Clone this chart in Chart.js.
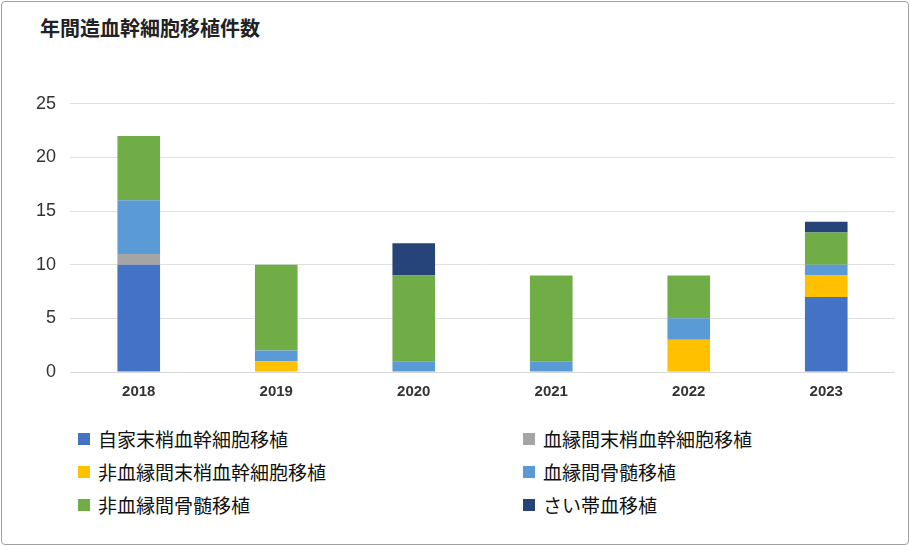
<!DOCTYPE html>
<html><head><meta charset="utf-8">
<script src="https://cdn.jsdelivr.net/npm/chart.js@4/dist/chart.umd.min.js"></script>
<style>
body{margin:0;background:#fff;font-family:"Noto Sans CJK JP","Noto Sans",sans-serif}
#frame{position:absolute;left:1px;top:1px;width:906px;height:542px;border:1px solid #a0a0a0;border-radius:4px}
#title{position:absolute;left:40px;top:13px;font-size:20px;font-weight:bold;color:#222}
#box{position:absolute;left:20px;top:79px;width:875px;height:325px}
#legend{position:absolute;left:78px;top:424px;display:grid;grid-template-columns:445px 300px;row-gap:4px;font-size:19px;color:#111}
#legend div{display:flex;align-items:center;height:29px}
#legend span{display:inline-block;width:12px;height:12px;margin-right:8px}
</style></head><body>
<div id="frame"></div>
<div id="title">年間造血幹細胞移植件数</div>
<div id="box"><canvas id="c"></canvas></div>
<div id="legend"></div>
<script>
// counts per year
const years = ["2018", "2019", "2020", "2021", "2022", "2023"]
const autoPB = [10, 0, 0, 0, 0, 7]
const relPB = [1, 0, 0, 0, 0, 0]
const unrelPB = [0, 1, 0, 0, 3, 2]
const relBM = [5, 1, 1, 1, 2, 1]
const unrelBM = [6, 8, 8, 8, 4, 3]
const cord = [0, 0, 3, 0, 0, 1]

const series = [
  ["自家末梢血幹細胞移植", autoPB, "#4472C4"],
  ["血縁間末梢血幹細胞移植", relPB, "#A5A5A5"],
  ["非血縁間末梢血幹細胞移植", unrelPB, "#FFC000"],
  ["血縁間骨髄移植", relBM, "#5B9BD5"],
  ["非血縁間骨髄移植", unrelBM, "#70AD47"],
  ["さい帯血移植", cord, "#264478"]
]

const legend = document.getElementById("legend")
series.forEach(([label, , color]) => {
  const d = document.createElement("div")
  d.innerHTML = '<span style="background:' + color + '"></span>' + label
  legend.appendChild(d)
})

new Chart(document.getElementById("c"), {
  type: 'bar',
  data: {
    labels: years,
    datasets: series.map(([label, data, color]) => ({
      label: label,
      data: data,
      backgroundColor: color,
      barPercentage: 0.31,
      categoryPercentage: 1
    }))
  },
  options: {
    responsive: true,
    maintainAspectRatio: false,
    animation: false,
    layout: { padding: { top: 4, right: 0, bottom: 0, left: 0 } },
    scales: {
      x: {
        stacked: true,
        grid: { display: false },
        border: { color: '#d9d9d9' },
        ticks: { color: '#333', font: { size: 15, weight: 'bold', family: 'Liberation Sans' } }
      },
      y: {
        stacked: true,
        min: 0, max: 25,
        ticks: { stepSize: 5, color: '#333', padding: 14, font: { size: 18, family: 'Liberation Sans' } },
        grid: { color: '#e0e0e0', drawTicks: false },
        border: { display: false },
        afterFit: (s) => { s.width = 50 }
      }
    },
    plugins: { legend: { display: false }, tooltip: { enabled: false } }
  }
})
</script>
</body></html>
